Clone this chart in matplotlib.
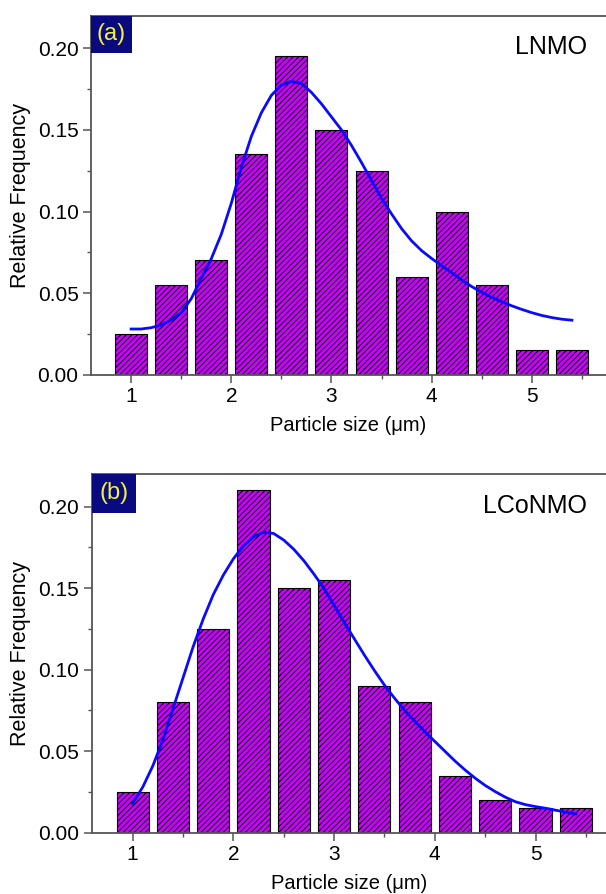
import matplotlib
matplotlib.use("Agg")
import matplotlib.pyplot as plt
from matplotlib.patches import Rectangle
from matplotlib.ticker import MultipleLocator, FormatStrFormatter

plt.rcParams['font.family'] = ['Liberation Sans', 'DejaVu Sans']
plt.rcParams['hatch.linewidth'] = 0.7
plt.rcParams['hatch.color'] = 'black'

# ---- data ----
bin_centers = [1.0, 1.4, 1.8, 2.2, 2.6, 3.0, 3.4, 3.8, 4.2, 4.6, 5.0, 5.4]
freq_lnmo = [0.025, 0.055, 0.070, 0.135, 0.195, 0.150, 0.125, 0.060, 0.100, 0.055, 0.015, 0.015]
freq_lconmo = [0.025, 0.080, 0.125, 0.210, 0.150, 0.155, 0.090, 0.080, 0.035, 0.020, 0.015, 0.015]

fit_x = [1.0, 1.1, 1.2, 1.3, 1.4, 1.5, 1.6, 1.7, 1.8, 1.9, 2.0, 2.1, 2.2, 2.3, 2.4, 2.5,
         2.6, 2.7, 2.8, 2.9, 3.0, 3.1, 3.2, 3.3, 3.4, 3.5, 3.6, 3.7, 3.8, 3.9, 4.0, 4.1,
         4.2, 4.3, 4.4, 4.5, 4.6, 4.7, 4.8, 4.9, 5.0, 5.1, 5.2, 5.3, 5.4]
fit_y_lnmo = [0.0280, 0.0280, 0.0288, 0.0305, 0.0335, 0.0380, 0.0465, 0.0590, 0.0710, 0.0860,
              0.1050, 0.1270, 0.1460, 0.1605, 0.1712, 0.1775, 0.1798, 0.1785, 0.1730, 0.1660,
              0.1580, 0.1500, 0.1405, 0.1300, 0.1190, 0.1080, 0.0985, 0.0895, 0.0820, 0.0760,
              0.0712, 0.0668, 0.0625, 0.0580, 0.0540, 0.0505, 0.0475, 0.0447, 0.0422, 0.0400,
              0.0380, 0.0363, 0.0350, 0.0340, 0.0334]
fit_y_lconmo = [0.0180, 0.0280, 0.0410, 0.0570, 0.0760, 0.0950, 0.1140, 0.1310, 0.1460, 0.1580,
                0.1680, 0.1760, 0.1815, 0.1843, 0.1835, 0.1795, 0.1738, 0.1668, 0.1586, 0.1498,
                0.1395, 0.1290, 0.1190, 0.1090, 0.0995, 0.0905, 0.0825, 0.0750, 0.0685, 0.0620,
                0.0560, 0.0500, 0.0440, 0.0385, 0.0335, 0.0290, 0.0252, 0.0218, 0.0190, 0.0172,
                0.0160, 0.0150, 0.0138, 0.0126, 0.0115]

yticks = [0.00, 0.05, 0.10, 0.15, 0.20]
xticks = [1, 2, 3, 4, 5]

panels = [
    dict(rect=[91/606, 1-374.7/894, 1-91/606, (374.7-15.7)/894], xlim=(0.60, 5.74),
         freq=freq_lnmo, fy=fit_y_lnmo, tag='(a)', name='LNMO',
         box=(41/515, 37.3/359)),
    dict(rect=[91.7/606, 1-832.7/894, 1-91.7/606, (832.7-474)/894], xlim=(0.593, 5.70),
         freq=freq_lconmo, fy=fit_y_lconmo, tag='(b)', name='LCoNMO',
         box=(44/514, 39/358.7)),
]

fig = plt.figure(figsize=(6.06, 8.94), dpi=100)
spine_col = '#555555'
for p in panels:
    ax = fig.add_axes(p['rect'])
    ax.bar(bin_centers, p['freq'], width=0.32, color='#CC00FF', edgecolor='black',
           linewidth=0.8, hatch='//////', zorder=2)
    ax.plot(fit_x, p['fy'], color='#0A0AFF', linewidth=2.0, zorder=3,
            solid_joinstyle='round')
    ax.set_xlim(*p['xlim'])
    ax.set_ylim(0, 0.22)
    ax.set_yticks(yticks)
    ax.set_xticks(xticks)
    ax.yaxis.set_major_formatter(FormatStrFormatter('%.2f'))
    ax.yaxis.set_minor_locator(MultipleLocator(0.025))
    ax.xaxis.set_minor_locator(MultipleLocator(0.5))
    ax.spines['right'].set_visible(False)
    for s in ['left', 'top', 'bottom']:
        ax.spines[s].set_color(spine_col)
        ax.spines[s].set_linewidth(1.3)
    ax.tick_params(which='major', direction='out', length=6, width=1.1, color=spine_col,
                   labelsize=15, pad=3)
    ax.tick_params(which='minor', direction='out', length=3, width=1.0, color=spine_col)
    ax.tick_params(top=False, right=False, which='both')
    ax.set_ylabel('Relative Frequency', fontsize=15.5, labelpad=5)
    ax.set_xlabel('Particle size (μm)', fontsize=14.5, labelpad=7)
    bw, bh = p['box']
    ax.add_patch(Rectangle((0, 1-bh), bw, bh, transform=ax.transAxes, facecolor='#0A0A80',
                           edgecolor='none', zorder=5, clip_on=False))
    ax.text(bw/2, 1-bh/2, p['tag'], transform=ax.transAxes, ha='center', va='center',
            color='#F2F23A', fontsize=17, zorder=6)
    ax.text(0.963, 0.912, p['name'], transform=ax.transAxes, ha='right', va='center',
            color='black', fontsize=18, zorder=6)

fig.savefig('out.png', dpi=100)
